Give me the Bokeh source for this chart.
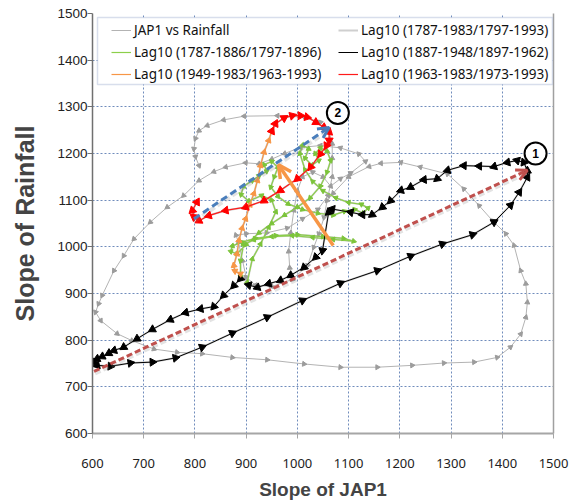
import math
from bokeh.plotting import figure
from bokeh.models import (Range1d, LinearAxis, Legend, LegendItem, Arrow, OpenHead,
                          FixedTicker, ColumnDataSource, BoxAnnotation)
from bokeh.core.properties import value
from bokeh.embed import file_html
from bokeh.resources import INLINE

# ---------------- data ----------------
x_ticks = [600, 700, 800, 900, 1000, 1100, 1200, 1300, 1400, 1500]
y_ticks = [600, 700, 800, 900, 1000, 1100, 1200, 1300, 1400, 1500]

labels = ["JAP1 vs Rainfall", "Lag10 (1787-1983/1797-1993)",
          "Lag10 (1787-1886/1797-1896)", "Lag10 (1887-1948/1897-1962)",
          "Lag10 (1949-1983/1963-1993)", "Lag10 (1963-1983/1973-1993)"]

jap_x = [985, 983, 987, 993, 1000, 1010, 1030, 1050, 1065, 1084, 1104, 1133, 1120, 1084, 1045, 1006, 975, 950,
         925, 899, 860, 837, 808, 778, 746, 713, 681, 661, 642, 619, 612, 606, 616, 648, 677, 720, 765, 814, 873,
         941, 1013, 1084, 1156, 1224, 1286, 1345, 1390, 1416, 1436, 1446, 1449, 1446, 1436, 1423, 1407, 1381, 1355,
         1325, 1293, 1240, 1202, 1163, 1140, 1100, 1070, 1058, 1052, 1042, 1032, 1020, 990, 950, 918, 900, 893, 885,
         880, 900, 940, 980, 1010, 1040, 1060, 1068, 1068, 1068, 1062, 1045, 1013, 961, 896, 856, 824, 808, 801,
         798, 801, 808]
jap_y = [955, 990, 1030, 1078, 1120, 1150, 1160, 1150, 1130, 1146, 1158, 1183, 1199, 1212, 1217, 1213, 1200, 1188,
         1178, 1180, 1171, 1161, 1142, 1110, 1085, 1053, 1017, 981, 949, 896, 878, 860, 842, 814, 799, 781, 774, 771,
         763, 758, 749, 742, 742, 746, 751, 753, 763, 785, 813, 849, 881, 921, 949, 1003, 1028, 1056, 1088, 1124,
         1156, 1171, 1181, 1179, 1172, 1150, 1115, 1099, 1063, 1028, 999, 960, 930, 915, 918, 935, 970, 1010, 1025,
         1028, 1030, 1040, 1060, 1080, 1110, 1150, 1190, 1221, 1246, 1267, 1278, 1281, 1280, 1272, 1260, 1249, 1232,
         1210, 1193, 1174]

green_x = [902, 912, 928, 944, 958, 950, 930, 905, 890, 895, 912, 925, 940, 935, 950, 962, 955, 948, 962, 982,
           1010, 1040, 1070, 1092, 1112, 1128, 1138, 1125, 1100, 1075, 1050, 1030, 1015, 1005, 1010, 1022, 1015,
           1028, 1042, 1035, 1045, 1058, 1065, 1058, 1045, 1025, 1000, 975, 950, 925, 900, 882, 870, 873, 892, 918,
           958, 1000, 1050, 1090, 1110, 1070, 1030, 990, 950, 915, 895, 889, 889]
green_y = [924, 974, 1006, 1042, 1075, 1100, 1110, 1098, 1112, 1130, 1142, 1152, 1162, 1176, 1183, 1170, 1150, 1128,
           1108, 1092, 1080, 1072, 1068, 1076, 1080, 1072, 1083, 1091, 1095, 1105, 1120, 1140, 1165, 1200, 1218,
           1210, 1190, 1175, 1185, 1200, 1212, 1205, 1185, 1160, 1130, 1105, 1085, 1068, 1050, 1030, 1005, 985, 990,
           1002, 1010, 1018, 1024, 1026, 1022, 1018, 1012, 1016, 1020, 1024, 1022, 1015, 1005, 970, 935]

black_x = [889, 876, 856, 837, 811, 782, 752, 717, 687, 661, 642, 632, 619, 609, 603, 609, 635, 674, 717, 762, 814,
           873, 941, 1010, 1084, 1156, 1221, 1283, 1342, 1384, 1416, 1433, 1449, 1449, 1442, 1429, 1410, 1384, 1355,
           1325, 1293, 1273, 1247, 1221, 1202, 1182, 1166, 1146, 1127, 1104, 1068, 1061, 1049, 1036, 1013, 987, 967,
           944, 922, 905]
black_y = [932, 917, 896, 872, 867, 859, 844, 823, 803, 785, 778, 772, 765, 760, 753, 746, 744, 751, 753, 762, 785,
           815, 849, 885, 922, 949, 980, 1006, 1026, 1053, 1089, 1117, 1149, 1163, 1181, 1185, 1181, 1172, 1173, 1174,
           1164, 1146, 1144, 1128, 1121, 1099, 1085, 1069, 1069, 1074, 1081, 1074, 992, 978, 956, 939, 928, 921, 913,
           918]

orange_x = [889, 878, 876, 882, 886, 892, 899, 907, 915, 922, 928, 935, 944, 950]
orange_y = [942, 948, 960, 985, 1014, 1040, 1060, 1090, 1114, 1142, 1174, 1203, 1228, 1248]

red_x = [950, 957, 974, 990, 1006, 1019, 1036, 1052, 1062, 1062, 1057, 1045, 1026, 1000, 967, 935, 899, 860, 827,
         808, 798, 795, 804]
red_y = [1248, 1264, 1276, 1281, 1281, 1278, 1267, 1256, 1246, 1228, 1217, 1199, 1171, 1146, 1121, 1099, 1085, 1078,
         1067, 1056, 1064, 1078, 1096]

# trend arrows: (x_start, y_start, x_end, y_end)
arrow_red = [603, 733, 1449, 1164]
arrow_blue = [798, 1060, 1062, 1256]
arrow_orange = [1070, 1003, 963, 1176]

# numbered circles
circle_labels = ["1", "2"]
circle_x = [1465, 1079]
circle_y = [1200, 1287]

# ---------------- layout ----------------
W, H = 580, 501
ML, MT = 92, 13
FW, FH = 461, 420
MR, MB = W - ML - FW, H - MT - FH
X_MIN, X_MAX, Y_MIN, Y_MAX = x_ticks[0], x_ticks[-1], y_ticks[0], y_ticks[-1]
SX = FW / (X_MAX - X_MIN)
SY = FH / (Y_MAX - Y_MIN)


def heading(xs, ys):
    out = []
    for i in range(len(xs)):
        a, b = (0, 1) if i == 0 else (i - 1, i)
        dx = (xs[b] - xs[a]) * SX
        dy = (ys[b] - ys[a]) * SY
        out.append(math.atan2(dy, dx) - math.pi / 2)
    return out


p = figure(frame_width=FW, frame_height=FH, x_range=Range1d(X_MIN, X_MAX), y_range=Range1d(Y_MIN, Y_MAX),
           output_backend="svg", toolbar_location=None,
           min_border_left=ML, min_border_right=MR, min_border_top=MT, min_border_bottom=MB)
p.outline_line_color = None
p.background_fill_color = "white"
p.border_fill_color = "white"

# grid
for g, ticks in ((p.xgrid, x_ticks), (p.ygrid, y_ticks)):
    g.ticker = FixedTicker(ticks=ticks)
    g.grid_line_color = "#5f7fb5"
    g.grid_line_dash = "2 2"
    g.grid_line_width = 1
    g.grid_line_alpha = 0.9

# axes
xa = p.xaxis[0]
xa.ticker = FixedTicker(ticks=x_ticks)
xa.axis_line_color = "#a6a6a6"
xa.axis_line_width = 2
xa.major_tick_line_color = "#a6a6a6"
xa.major_tick_out = 5
xa.major_tick_in = 0
xa.minor_tick_line_color = None
xa.major_label_standoff = 20
xa.major_label_text_font = "Noto Sans"
xa.major_label_text_font_size = "13px"
xa.major_label_text_color = "#222222"
xa.axis_label = "Slope of JAP1"
xa.axis_label_text_font = "Liberation Sans"
xa.axis_label_text_font_style = "bold"
xa.axis_label_text_font_size = "19px"
xa.axis_label_standoff = 8

ya = p.yaxis[0]
ya.ticker = FixedTicker(ticks=y_ticks)
ya.axis_line_color = "#707070"
ya.axis_line_width = 1.5
ya.major_tick_line_color = "#707070"
ya.major_tick_out = 5
ya.major_tick_in = 0
ya.minor_tick_line_color = None
ya.major_label_standoff = 0
ya.major_label_text_font = "Liberation Sans"
ya.major_label_text_font_size = "13.5px"
ya.major_label_text_color = "#222222"
ya.axis_label = "Slope of Rainfall"
ya.axis_label_text_font = "Liberation Sans"
ya.axis_label_text_font_style = "bold"
ya.axis_label_text_font_size = "25px"
ya.axis_label_standoff = 15

ra = LinearAxis(ticker=FixedTicker(ticks=[]), axis_line_color="#a0a0a0", axis_line_width=1.5,
                major_tick_line_color=None, minor_tick_line_color=None, major_label_text_font_size="0px")
p.add_layout(ra, "right")

# full lag10 series (under the coloured parts)
full_x = green_x + black_x + orange_x + red_x
full_y = green_y + black_y + orange_y + red_y
full_line = p.line(full_x, full_y, line_color="#cfcfcf", line_width=2)


def add_series(xs, ys, color, lw, msize, mcolor):
    src = ColumnDataSource(dict(x=xs, y=ys, a=heading(xs, ys)))
    ln = p.line('x', 'y', source=src, line_color=color, line_width=lw)
    p.scatter('x', 'y', source=src, marker='triangle', angle='a', size=msize,
              fill_color=mcolor, line_color=mcolor)
    dummy = p.scatter(x=[], y=[], marker='triangle', angle=-math.pi / 2, size=msize,
                      fill_color=mcolor, line_color=mcolor)
    return [ln, dummy]


r_jap = add_series(jap_x, jap_y, "#b3b3b3", 1, 5, "#9c9c9c")
r_green = add_series(green_x, green_y, "#8ccf4a", 1.2, 5, "#7cc43a")
r_black = add_series(black_x, black_y, "#000000", 1, 8, "#000000")
r_orange = add_series(orange_x, orange_y, "#f79646", 1.2, 6, "#f79646")
r_red = add_series(red_x, red_y, "#ff1a1a", 1.2, 8, "#ff0000")

# soft shadows under the dashed trend arrows (offset a couple of pixels)
SHX, SHY = 1.0 / SX, -2.0 / SY
for arr in (arrow_red, arrow_blue):
    p.line([arr[0] + SHX, arr[2] + SHX], [arr[1] + SHY, arr[3] + SHY],
           line_color="#808080", line_alpha=0.22, line_width=4, line_dash="6 3")

# trend arrows
p.add_layout(Arrow(x_start=arrow_red[0], y_start=arrow_red[1], x_end=arrow_red[2], y_end=arrow_red[3],
                   line_color="#c0504d", line_width=3, line_dash="6 3",
                   end=OpenHead(size=11, line_color="#c0504d", line_width=3)))
p.add_layout(Arrow(x_start=arrow_blue[0], y_start=arrow_blue[1], x_end=arrow_blue[2], y_end=arrow_blue[3],
                   line_color="#4a7ebb", line_width=3, line_dash="7 4",
                   end=OpenHead(size=11, line_color="#4a7ebb", line_width=3)))
p.add_layout(Arrow(x_start=arrow_orange[0], y_start=arrow_orange[1], x_end=arrow_orange[2],
                   y_end=arrow_orange[3], line_color="#f79646", line_width=3.5,
                   end=OpenHead(size=13, line_color="#f79646", line_width=3.5)))

# numbered circles
p.scatter(circle_x, circle_y, marker="circle", size=22, fill_color="white",
          line_color="black", line_width=2)
p.text(circle_x, circle_y, text=circle_labels, text_align="center", text_baseline="middle",
       text_font=value("Liberation Sans"), text_font_style="bold", text_font_size="12px")

# legend box + two legend columns (page pixel layout)
box_l, box_r, box_t, box_b = 97, 552, 17, 84
p.add_layout(BoxAnnotation(left=X_MIN + (box_l - ML) / SX, right=X_MIN + (box_r - ML) / SX,
                           top=Y_MAX - (box_t - MT) / SY, bottom=Y_MAX - (box_b - MT) / SY,
                           fill_color="white", fill_alpha=1, line_color="#7f93bf", line_width=1.5,
                           level="annotation"))

items_left = [LegendItem(label=labels[0], renderers=r_jap),
              LegendItem(label=labels[2], renderers=r_green),
              LegendItem(label=labels[4], renderers=r_orange)]
items_right = [LegendItem(label=labels[1], renderers=[full_line]),
               LegendItem(label=labels[3], renderers=r_black),
               LegendItem(label=labels[5], renderers=r_red)]

frame_bottom = MT + FH
for items, gx in ((items_left, 111), (items_right, 338)):
    lg = Legend(items=items, location=(gx - ML, frame_bottom - 83), orientation="vertical",
                padding=0, spacing=4, glyph_width=20, glyph_height=16, label_height=16,
                label_standoff=3, border_line_color=None, background_fill_alpha=0,
                label_text_font="Noto Sans", label_text_font_size="13.5px", label_text_color="#111111",
                margin=0)
    p.add_layout(lg)

open("out.html", "w").write(file_html(p, INLINE))
